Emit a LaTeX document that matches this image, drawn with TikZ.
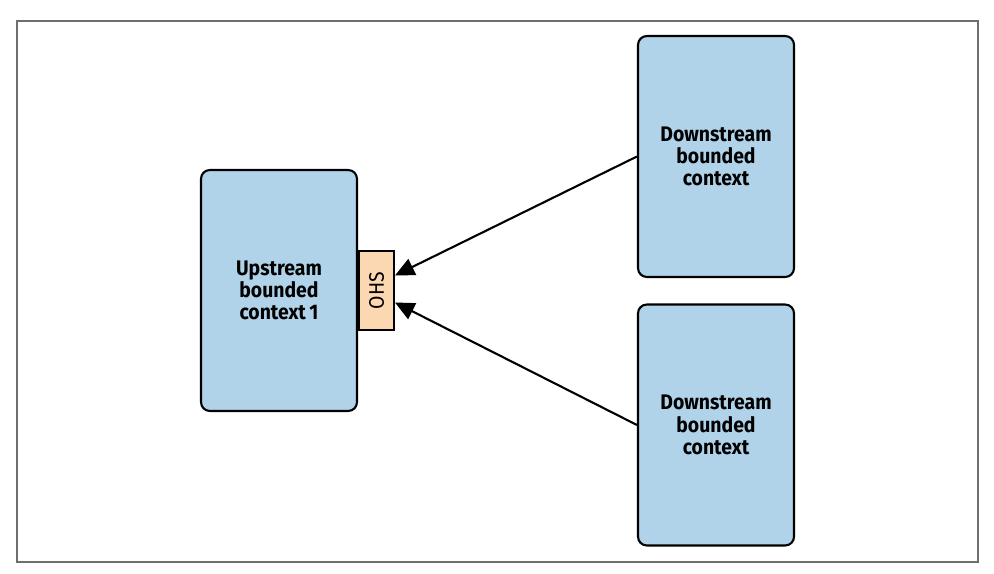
\documentclass[tikz,border=0pt]{standalone}
\usepackage{fontspec}
\setmainfont{Fira Sans}[FakeStretch=0.92]
\usepackage{tikz}
\usetikzlibrary{positioning, arrows.meta}

\definecolor{ctxblue}{HTML}{B0D3EA}
\definecolor{ohspeach}{HTML}{FBD8B2}
\definecolor{framegray}{HTML}{6E6E6E}

\tikzset{
    context/.style={draw=black, line width=1.2pt, fill=ctxblue, rounded corners=5pt,
        minimum width=3.12cm, minimum height=4.82cm, align=center,
        font=\fontsize{12}{12.6}\selectfont\bfseries},
    ohsbox/.style={draw=black, line width=1.1pt, fill=ohspeach,
        minimum width=0.7cm, minimum height=1.58cm, inner sep=0pt},
    uses/.style={-{Triangle[length=11pt,width=10pt]}, line width=1.2pt}
}

\begin{document}
\begin{tikzpicture}[x=0.02cm, y=-0.02cm]
        \useasboundingbox (0,0) rectangle (994,574);
        % Outer frame
        \draw[framegray, line width=1.1pt] (17,21) rectangle (978,562);
        % Contexts
        \node[context] (up) at (279,290.5) {Upstream\\bounded\\context\,1};
        \node[ohsbox, anchor=west] (ohs) at (up.east) {\rotatebox{90}{\fontsize{12}{12}\selectfont OHS}};
        \node[context] (downa) at (716,156.5) {Downstream\\bounded\\context};
        \node[context] (downb) at (716,425) {Downstream\\bounded\\context};
        % Relations
        \draw[uses] (downa.west) -- ([yshift=0.3cm]ohs.east);
        \draw[uses] (downb.west) -- ([yshift=-0.24cm]ohs.east);
    \end{tikzpicture}
\end{document}
